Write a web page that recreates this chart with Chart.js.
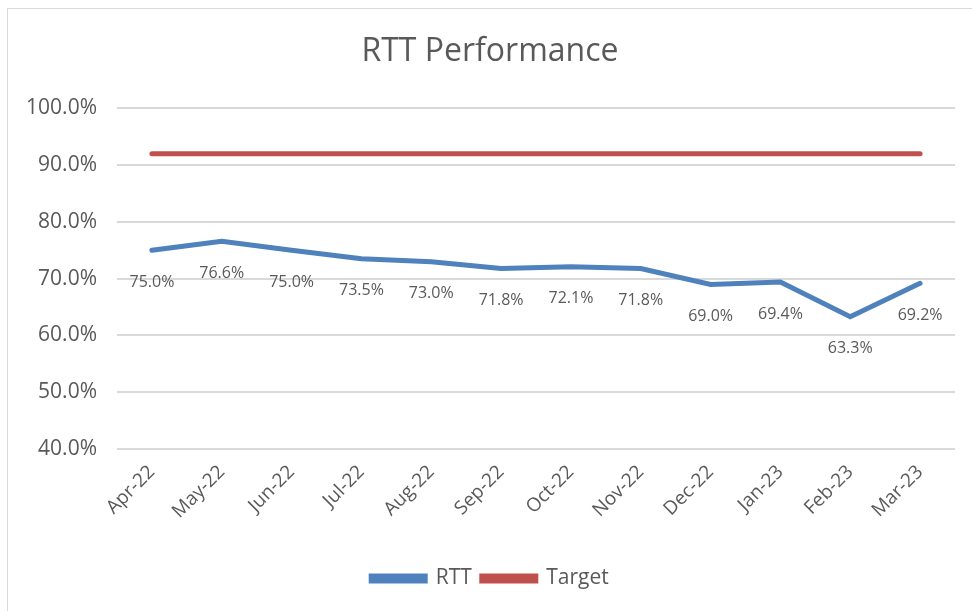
<!DOCTYPE html>
<html>
<head>
<meta charset="utf-8">
<script src="https://cdn.jsdelivr.net/npm/chart.js@4/dist/chart.umd.min.js"></script>
<style>
  html, body { margin: 0; padding: 0; background: #fff; }
  #wrap { position: relative; width: 972px; height: 611px; overflow: hidden; }
  #frame { position: absolute; left: 7px; top: 8px; width: 1000px; height: 700px; border: 1px solid #d9d9d9; box-sizing: border-box; }
  canvas { position: absolute; left: 0; top: 0; }
</style>
</head>
<body>
<div id="wrap">
  <div id="frame"></div>
  <canvas id="rttChart" width="972" height="611"></canvas>
</div>
<script>
// chart data
const months = ['Apr-22', 'May-22', 'Jun-22', 'Jul-22', 'Aug-22', 'Sep-22', 'Oct-22', 'Nov-22', 'Dec-22', 'Jan-23', 'Feb-23', 'Mar-23'];
const rttValues = [75.0, 76.6, 75.0, 73.5, 73.0, 71.8, 72.1, 71.8, 69.0, 69.4, 63.3, 69.2];
const targetValues = [92, 92, 92, 92, 92, 92, 92, 92, 92, 92, 92, 92];

const textColor = '#595959';
const fontFamily = '"Open Sans", "Liberation Sans", sans-serif';

// draw value labels under the RTT points
const valueLabels = {
  id: 'valueLabels',
  afterDatasetsDraw(chart) {
    const ctx = chart.ctx;
    const meta = chart.getDatasetMeta(0);
    ctx.save();
    ctx.font = '16px ' + fontFamily;
    ctx.fillStyle = textColor;
    ctx.textAlign = 'center';
    ctx.textBaseline = 'middle';
    meta.data.forEach((pt, i) => {
      ctx.fillText(rttValues[i].toFixed(1) + '%', pt.x, pt.y + 32);
    });
    ctx.restore();
  }
};

const ctx = document.getElementById('rttChart').getContext('2d');
new Chart(ctx, {
  type: 'line',
  data: {
    labels: months,
    datasets: [
      {
        label: 'RTT',
        data: rttValues,
        borderColor: '#4f81bd',
        backgroundColor: '#4f81bd',
        borderWidth: 5,
        pointRadius: 0,
        borderCapStyle: 'round',
        fill: false,
        tension: 0
      },
      {
        label: 'Target',
        data: targetValues,
        borderColor: '#c0504d',
        backgroundColor: '#c0504d',
        borderWidth: 5,
        pointRadius: 0,
        borderCapStyle: 'round',
        fill: false,
        tension: 0
      }
    ]
  },
  options: {
    responsive: false,
    animation: false,
    layout: { padding: { left: 25, right: 17, top: 0, bottom: 12 } },
    plugins: {
      title: {
        display: true,
        text: 'RTT Performance',
        color: textColor,
        font: { family: fontFamily, size: 32, weight: 'normal' },
        padding: { top: 33, bottom: 37 }
      },
      legend: {
        position: 'bottom',
        labels: {
          color: textColor,
          font: { family: fontFamily, size: 21 },
          boxWidth: 54,
          boxHeight: 5,
          padding: 10
        }
      },
      tooltip: { enabled: false }
    },
    scales: {
      x: {
        offset: true,
        grid: { display: false },
        border: { display: false },
        ticks: {
          color: textColor,
          font: { family: fontFamily, size: 19 },
          minRotation: 45,
          maxRotation: 45,
          padding: 4
        },
        afterFit(scale) { scale.height = 109; }
      },
      y: {
        min: 40,
        max: 100,
        grid: { color: '#d9d9d9', lineWidth: 2, drawTicks: false },
        border: { display: false },
        ticks: {
          stepSize: 10,
          color: textColor,
          font: { family: fontFamily, size: 21 },
          padding: 20,
          callback: v => v.toFixed(1) + '%'
        },
        afterFit(scale) { scale.width = 92; }
      }
    }
  },
  plugins: [valueLabels]
});
</script>
</body>
</html>
